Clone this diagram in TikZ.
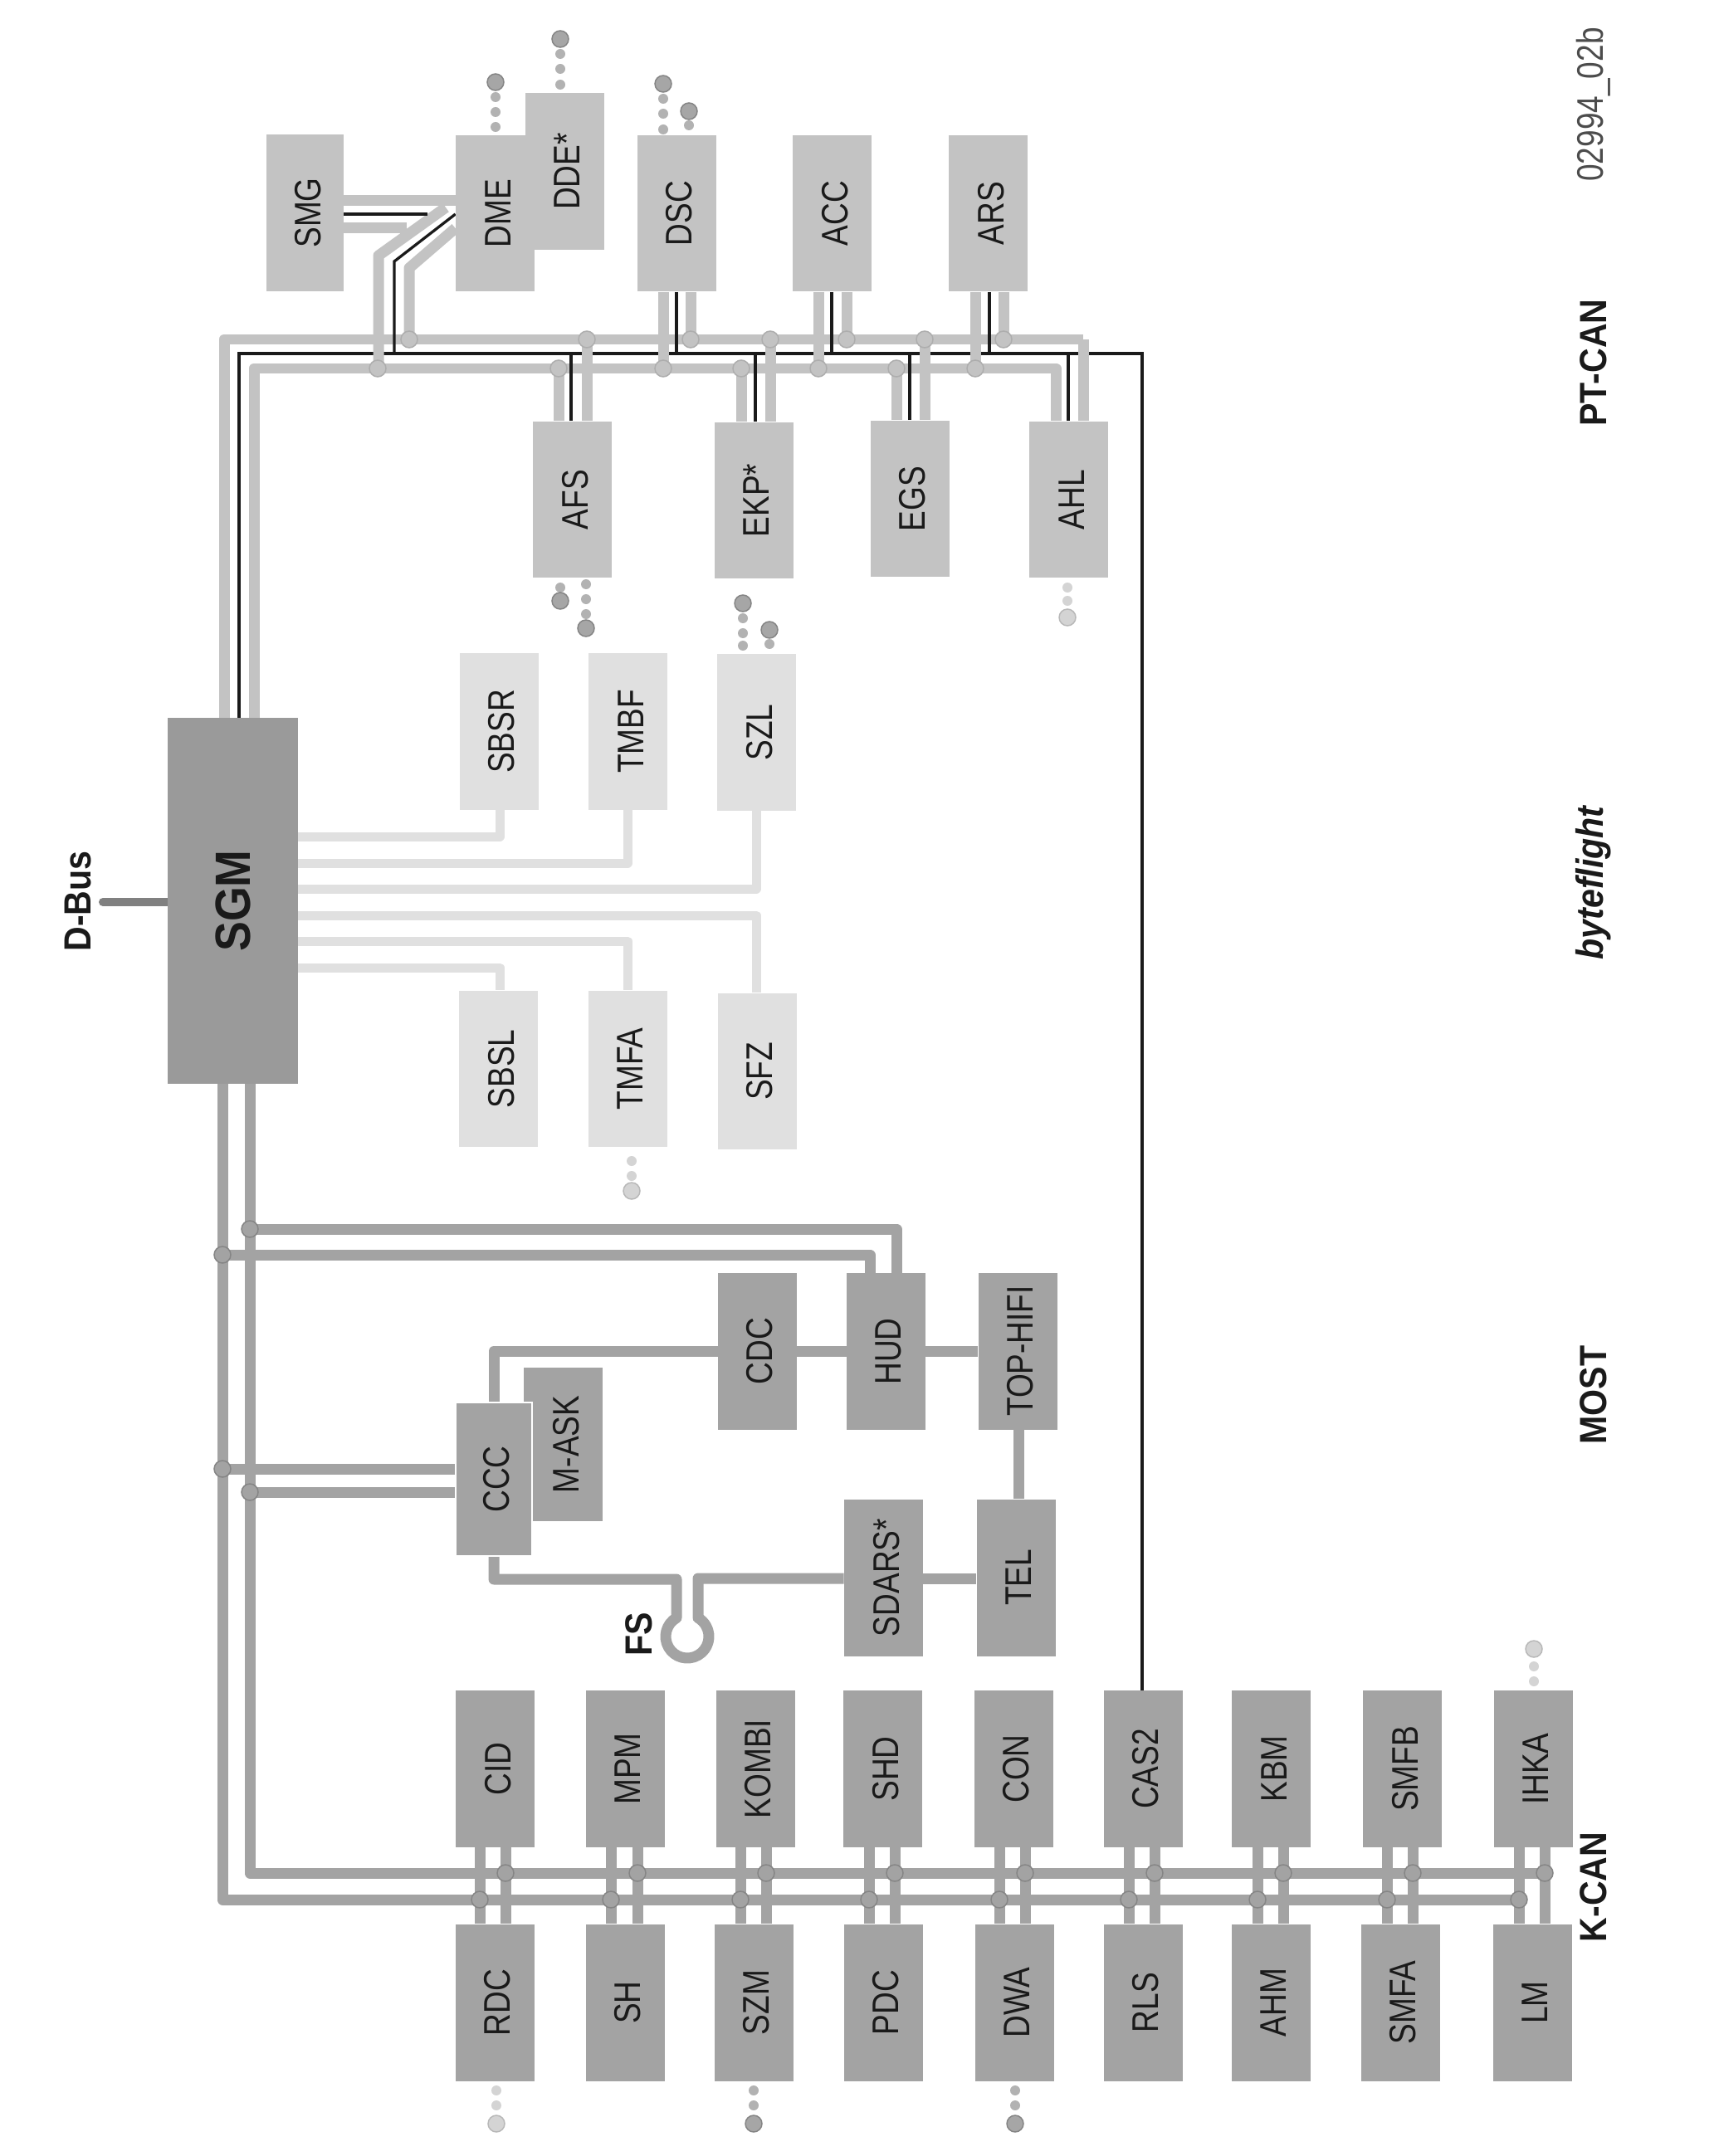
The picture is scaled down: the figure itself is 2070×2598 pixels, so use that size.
\documentclass[tikz,border=0pt]{standalone}
\usepackage{fontspec}
\usepackage{graphicx}
\usetikzlibrary{backgrounds}
\newfontfamily\modfont[FakeStretch=0.83]{Liberation Sans}
\newfontfamily\capfont[FakeStretch=0.9]{Liberation Sans}
\definecolor{pt-fill}{HTML}{C3C3C3}
\definecolor{bf-fill}{HTML}{E0E0E0}
\definecolor{k-fill}{HTML}{A3A3A3}
\definecolor{sgm-fill}{HTML}{9A9A9A}
\definecolor{jet}{HTML}{1A1A1A}
\newcommand{\rt}[1]{\rotatebox{90}{#1}}
\newcommand{\rtm}[1]{\hspace*{0.13cm}\rotatebox{90}{#1}}

\begin{document}
\begin{tikzpicture}[x=0.02cm, y=-0.02cm,
    every node/.style={inner sep=0pt, text=jet},
    modbox/.style={minimum width=1.9cm, minimum height=3.78cm,
      font=\modfont\fontsize{25.4}{30}\selectfont},
    ptbox/.style={modbox, fill=pt-fill},
    bfbox/.style={modbox, fill=bf-fill},
    kbox/.style={modbox, fill=k-fill},
    capnode/.style={font=\capfont\bfseries\fontsize{26}{30}\selectfont},
    ptband/.style={draw=pt-fill, line width=0.26cm, line join=round},
    kband/.style={draw=k-fill, line width=0.26cm, line join=round},
    bfband/.style={draw=bf-fill, line width=0.22cm, line join=round},
    wire/.style={draw=jet, line width=0.066cm},
    ptdot/.style={circle, fill=pt-fill, draw=black!32, line width=0.03cm, minimum size=0.4cm},
    kdot/.style={circle, fill=k-fill, draw=black!48, line width=0.03cm, minimum size=0.4cm},
    tailbig/.style={circle, fill=black!35, draw=black!48, line width=0.03cm, minimum size=0.4cm},
    tailsmall/.style={circle, fill=black!30, minimum size=0.24cm},
    palebig/.style={circle, fill=black!17, draw=black!28, line width=0.03cm, minimum size=0.4cm},
    palesmall/.style={circle, fill=black!17, minimum size=0.24cm}]
  \useasboundingbox (0,0) rectangle (2070,2598);

  % control units
  \node[fill=sgm-fill, minimum width=3.14cm, minimum height=8.82cm,
    font=\capfont\bfseries\fontsize{34}{40}\selectfont] (SGM) at (280.5,1085.5) {\rt{SGM}};
  \node[ptbox, minimum width=1.86cm] (SMG) at (367.5,256.5) {\rtm{SMG}};
  \node[ptbox] (DDE) at (680,206.5) {\rtm{DDE*}};
  \node[ptbox] (DME) at (596.5,257) {\rtm{DME}};
  \foreach \m/\mx in {DSC/815, ACC/1002.5, ARS/1190.5}
    \node[ptbox] (\m) at (\mx,257) {\rtm{\m}};
  \node[ptbox] (AFS) at (689.5,602) {\rtm{AFS}};
  \node[ptbox] (EKP) at (908,603) {\rtm{EKP*}};
  \node[ptbox] (EGS) at (1096,601) {\rtm{EGS}};
  \node[ptbox] (AHL) at (1287.5,602) {\rtm{AHL}};
  \node[bfbox] (SBSR) at (601,881.5) {\rtm{SBSR}};
  \node[bfbox] (TMBF) at (756.5,881.5) {\rtm{TMBF}};
  \node[bfbox] (SZL) at (911.5,882.5) {\rtm{SZL}};
  \node[bfbox] (SBSL) at (600.5,1288) {\rtm{SBSL}};
  \node[bfbox] (TMFA) at (756,1288) {\rtm{TMFA}};
  \node[bfbox] (SFZ) at (912,1291) {\rtm{SFZ}};
  \node[kbox] (CDC) at (912,1628) {\rtm{CDC}};
  \node[kbox] (HUD) at (1067,1628.5) {\rtm{HUD}};
  \node[kbox] (TOPHIFI) at (1226,1628) {\rtm{TOP-HIFI}};
  \node[kbox, minimum height=3.7cm] (MASK) at (678.5,1740.5) {\rtm{M-ASK}};
  \node[kbox, draw=white, line width=0.04cm, minimum width=1.84cm, minimum height=3.7cm] (CCC) at (595,1782.5) {\rtm{CCC}};
  \node[kbox] (SDARS) at (1064.5,1901) {\rtm{SDARS*}};
  \node[kbox] (TEL) at (1224,1901) {\rtm{TEL}};
  \foreach \m/\mx in {CID/596.5, MPM/753, KOMBI/910, SHD/1063.5, CON/1221, CAS2/1377, KBM/1531.5, SMFB/1689.5, IHKA/1847}
    \node[kbox] (\m) at (\mx,2131.5) {\rtm{\m}};
  \foreach \m/\mx in {RDC/596, SH/753, SZM/908, PDC/1064, DWA/1222, RLS/1377, AHM/1531, SMFA/1687, LM/1846}
    \node[kbox] (\m) at (\mx,2413) {\rtm{\m}};

  % open ends
  \foreach \tx/\ty in {597/153, 597/135, 597/117, 675/102, 675/83, 675/65, 799/156, 799/137, 799/119,
      830/151, 675/708, 706/704, 706/722, 706/740, 895/778, 895/763, 895/745, 927/776,
      908/2519, 908/2537, 1223/2519, 1223/2537}
    \node[tailsmall] (s\tx-\ty) at (\tx,\ty) {};
  \foreach \tx/\ty in {597/99, 675/47, 799/101, 830/134, 675/724, 706/757, 895/727, 927/759, 908/2559, 1223/2559}
    \node[tailbig] (b\tx-\ty) at (\tx,\ty) {};
  \foreach \tx/\ty in {1286/708, 1286/724, 761/1399, 761/1417, 598/2519, 598/2537, 1848/2008, 1848/2026}
    \node[palesmall] (s\tx-\ty) at (\tx,\ty) {};
  \foreach \tx/\ty in {1286/744, 761/1435, 598/2559, 1848/1987}
    \node[palebig] (b\tx-\ty) at (\tx,\ty) {};

  % bus names
  \node[capnode] (dbuslab) at (94,1086) {\rt{D-Bus}};
  \node[capnode] (fslab) at (770,1969) {\rt{FS}};
  \node[capnode] (ptlab) at (1920,437) {\rt{PT-CAN}};
  \node[capnode, font=\capfont\bfseries\itshape\fontsize{26}{30}\selectfont] (bflab) at (1920,1064) {\rt{byteflight}};
  \node[capnode] (mostlab) at (1920,1681) {\rt{MOST}};
  \node[capnode] (klab) at (1920,2274) {\rt{K-CAN}};
  \node[font=\modfont\fontsize{25.4}{30}\selectfont, text=black!70] (figno) at (1920,126) {\rt{02994\_02b}};

  \coordinate (dbusend) at (124,1087);

  \begin{scope}[on background layer]
    % PT-CAN
    \draw[ptband] (SGM.north -| 270,0) -- (270,409) -- (1305,409);
    \draw[ptband] (SGM.north -| 306,0) -- (306,444) -- (1272,444) -- (AHL.north -| 1272,0);
    \draw[wire] (SGM.north -| 288,0) -- (288,426) -- (1376,426) -- (CAS2.north -| 1376,0);
    \draw[ptband] (1305,409) -- (AHL.north -| 1305,0);
    \draw[ptband] (SMG.east |- 0,242) -- (DME.west |- 0,242);
    \draw[ptband] (SMG.east |- 0,275) -- (490,275);
    \draw[ptband] (456,444) -- (456,308) -- (537,250);
    \draw[ptband] (493,409) -- (493,323) -- (DME.west |- 0,275);
    \draw[wire] (SMG.east |- 0,258) -- (515,258);
    \draw[wire] (475,426) -- (475,315) -- (DME.west |- 0,258);
    \foreach \m/\xa/\xw/\xb in {DSC/799/815/832, ACC/986/1002/1020, ARS/1175/1192/1209} {
      \draw[ptband] (\m.south -| \xa,0) -- (\xa,444);
      \draw[ptband] (\m.south -| \xb,0) -- (\xb,409);
      \draw[wire] (\m.south -| \xw,0) -- (\xw,426);
    }
    \foreach \m/\xa/\xw/\xb in {AFS/673/688/707, EKP/893/910/928, EGS/1080/1096/1114} {
      \draw[ptband] (\m.north -| \xa,0) -- (\xa,444);
      \draw[ptband] (\m.north -| \xb,0) -- (\xb,409);
      \draw[wire] (\m.north -| \xw,0) -- (\xw,426);
    }
    \draw[wire] (AHL.north -| 1287,0) -- (1287,426);
    \foreach \jx in {455, 673, 799, 893, 986, 1080, 1175}
      \node[ptdot] (pa\jx) at (\jx,444) {};
    \foreach \jx in {493, 707, 832, 928, 1020, 1114, 1209}
      \node[ptdot] (pb\jx) at (\jx,409) {};

    % byteflight
    \foreach \by/\bx/\m/\a in {1008/602/SBSR/south, 1040/756/TMBF/south, 1071/911/SZL/south,
        1103/911/SFZ/north, 1134/756/TMFA/north, 1166/602/SBSL/north}
      \draw[bfband] (SGM.east |- 0,\by) -- (\bx,\by) -- (\m.\a -| \bx,0);

    % MOST
    \draw[kband] (SGM.south -| 268,0) -- (268,2289) -- (1830,2289);
    \draw[kband] (SGM.south -| 301,0) -- (301,2257) -- (1861,2257);
    \draw[kband] (301,1481) -- (1080,1481) -- (HUD.north -| 1080,0);
    \draw[kband] (268,1512) -- (1048,1512) -- (HUD.north -| 1048,0);
    \draw[kband] (268,1770) -- (CCC.west |- 0,1770);
    \draw[kband] (301,1798) -- (CCC.west |- 0,1798);
    \draw[kband] (CCC.north) -- (595,1628) -- (TOPHIFI.west |- 0,1628);
    \draw[kband] (TOPHIFI.south -| 1227,0) -- (TEL.north -| 1227,0);
    \draw[kband] (SDARS.east |- 0,1902) -- (TEL.west |- 0,1902);
    \draw[kband] (CCC.south) -- (595,1903) -- (815,1903) -- (815,1949.5)
      arc[start angle=240, end angle=-60, radius=26] -- (841,1902) -- (SDARS.west |- 0,1902);
    \foreach \jx/\jy in {301/1481, 268/1512, 268/1770, 301/1798}
      \node[kdot] (m\jx-\jy) at (\jx,\jy) {};

    % K-CAN
    \foreach \mt/\mb/\xa/\xb in {CID/RDC/578/609, MPM/SH/736/768, KOMBI/SZM/892/923, SHD/PDC/1047/1078,
        CON/DWA/1204/1235, CAS2/RLS/1360/1391, KBM/AHM/1515/1546, SMFB/SMFA/1671/1702, IHKA/LM/1830/1861} {
      \draw[kband] (\mt.south -| \xa,0) -- (\mb.north -| \xa,0);
      \draw[kband] (\mt.south -| \xb,0) -- (\mb.north -| \xb,0);
      \node[kdot] (ka\xa) at (\xa,2289) {};
      \node[kdot] (kb\xb) at (\xb,2257) {};
    }

    % D-Bus
    \draw[draw=black!50, line width=0.2cm, line cap=round] (SGM.west |- dbusend) -- (dbusend);
  \end{scope}
\end{tikzpicture}
\end{document}
